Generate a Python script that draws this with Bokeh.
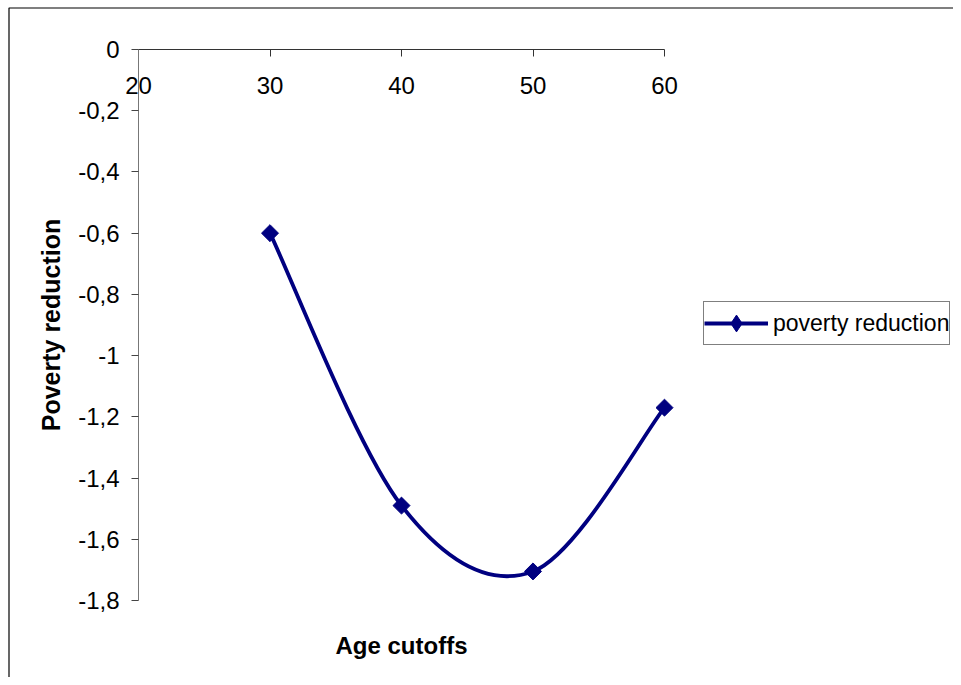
import math
from bokeh.plotting import figure
from bokeh.models import (FixedTicker, CustomJSTickFormatter, Legend, LegendItem,
                          Range1d, Label, BoxAnnotation)
from bokeh.embed import file_html
from bokeh.resources import INLINE

# data
ages = [30, 40, 50, 60]
poverty = [-0.60, -1.49, -1.705, -1.17]
x_ticks = [20, 30, 40, 50, 60]
y_ticks = [0, -0.2, -0.4, -0.6, -0.8, -1.0, -1.2, -1.4, -1.6, -1.8]
x_label = "Age cutoffs"
y_label = "Poverty reduction"
series_name = "poverty reduction"

NAVY = "#000080"
FONT = "Liberation Sans"

# layout (pixels): plot area 138..664 horizontally, 49..600 vertically
W, H = 953, 677
AX_L, AX_R, AX_T, AX_B = 138, 664, 49, 600
PXU = (AX_R - AX_L) / 40.0
PYU = (AX_B - AX_T) / 1.8

p = figure(width=W, height=H, output_backend="svg", toolbar_location=None,
           x_range=Range1d(20 - AX_L / PXU, 20 + (W - AX_L) / PXU),
           y_range=Range1d(-1.8 - (H - AX_B) / PYU, AX_T / PYU),
           min_border_left=0, min_border_right=0,
           min_border_top=0, min_border_bottom=0)
p.outline_line_color = None
p.grid.visible = False
p.background_fill_color = "white"
p.border_fill_color = "white"

# chart border (left / top edges visible)
p.add_layout(BoxAnnotation(left=8.5, top=7.5, right=W + 20, bottom=H + 20,
                           left_units="canvas", right_units="canvas",
                           top_units="canvas", bottom_units="canvas",
                           fill_color=None, fill_alpha=0,
                           line_color="black", line_alpha=1.0, line_width=1.2,
                           level="underlay"))

# x axis at y = 0 (top)
xa = p.xaxis[0]
xa.fixed_location = 0
xa.bounds = (20, 60)
xa.ticker = FixedTicker(ticks=x_ticks)
xa.minor_tick_line_color = None
xa.major_tick_out = 7
xa.major_tick_in = 0
xa.major_label_standoff = 20
xa.axis_line_color = "#333333"
xa.major_tick_line_color = "#333333"
xa.major_label_text_font = FONT
xa.major_label_text_font_size = "24px"
xa.major_label_text_color = "black"

# y axis at x = 20
ya = p.yaxis[0]
ya.fixed_location = 20
ya.bounds = (-1.8, 0)
ya.ticker = FixedTicker(ticks=y_ticks)
ya.formatter = CustomJSTickFormatter(
    code="var v = Math.round(tick*10)/10; if (v === 0) return '0'; return v.toString().replace('.', ',');")
ya.minor_tick_line_color = None
ya.major_tick_out = 7
ya.major_tick_in = 0
ya.major_label_standoff = 12
ya.axis_line_color = "#777777"
ya.major_tick_line_color = "#444444"
ya.major_label_text_font = FONT
ya.major_label_text_font_size = "24px"
ya.major_label_text_color = "black"
ya.axis_label = y_label
ya.axis_label_text_font = FONT
ya.axis_label_text_font_size = "25px"
ya.axis_label_text_font_style = "bold"
ya.axis_label_text_color = "black"
ya.axis_label_standoff = 10

p.add_layout(Label(x=401, y=H - 645, x_units="screen", y_units="screen",
                   text=x_label, text_align="center", text_baseline="middle",
                   text_font=FONT, text_font_size="24px", text_font_style="bold",
                   text_color="black"))

# smooth (Excel-like) curve through the points: cubic Bezier segments
n = len(ages)
x0s, y0s, x1s, y1s, cx0s, cy0s, cx1s, cy1s = [], [], [], [], [], [], [], []
for i in range(n - 1):
    pm = (ages[max(i - 1, 0)], poverty[max(i - 1, 0)])
    p0 = (ages[i], poverty[i])
    p1 = (ages[i + 1], poverty[i + 1])
    pp = (ages[min(i + 2, n - 1)], poverty[min(i + 2, n - 1)])
    x0s.append(p0[0]); y0s.append(p0[1])
    x1s.append(p1[0]); y1s.append(p1[1])
    cx0s.append(p0[0] + (p1[0] - pm[0]) / 6); cy0s.append(p0[1] + (p1[1] - pm[1]) / 6)
    cx1s.append(p1[0] - (pp[0] - p0[0]) / 6); cy1s.append(p1[1] - (pp[1] - p0[1]) / 6)

bez = p.bezier(x0=x0s, y0=y0s, x1=x1s, y1=y1s, cx0=cx0s, cy0=cy0s, cx1=cx1s, cy1=cy1s,
               line_color=NAVY, line_width=3.8)
sc = p.scatter(ages, poverty, marker="square", angle=math.pi / 4, size=12,
               fill_color=NAVY, line_color=NAVY)
# legend-only marker (diamond shape in the key)
key = p.scatter(ages, poverty, marker="diamond", size=20,
                fill_color=NAVY, line_color=NAVY, visible=False)

legend = Legend(items=[LegendItem(label=series_name, renderers=[bez, key])],
                location=(703, H - 345), margin=0, padding=0, spacing=0,
                glyph_width=64, glyph_height=42, label_standoff=5,
                label_text_font=FONT, label_text_font_size="23px",
                label_text_color="black",
                border_line_color="black", border_line_width=1,
                background_fill_color="white", background_fill_alpha=1)
p.add_layout(legend, "center")

open("out.html", "w").write(file_html(p, INLINE))
